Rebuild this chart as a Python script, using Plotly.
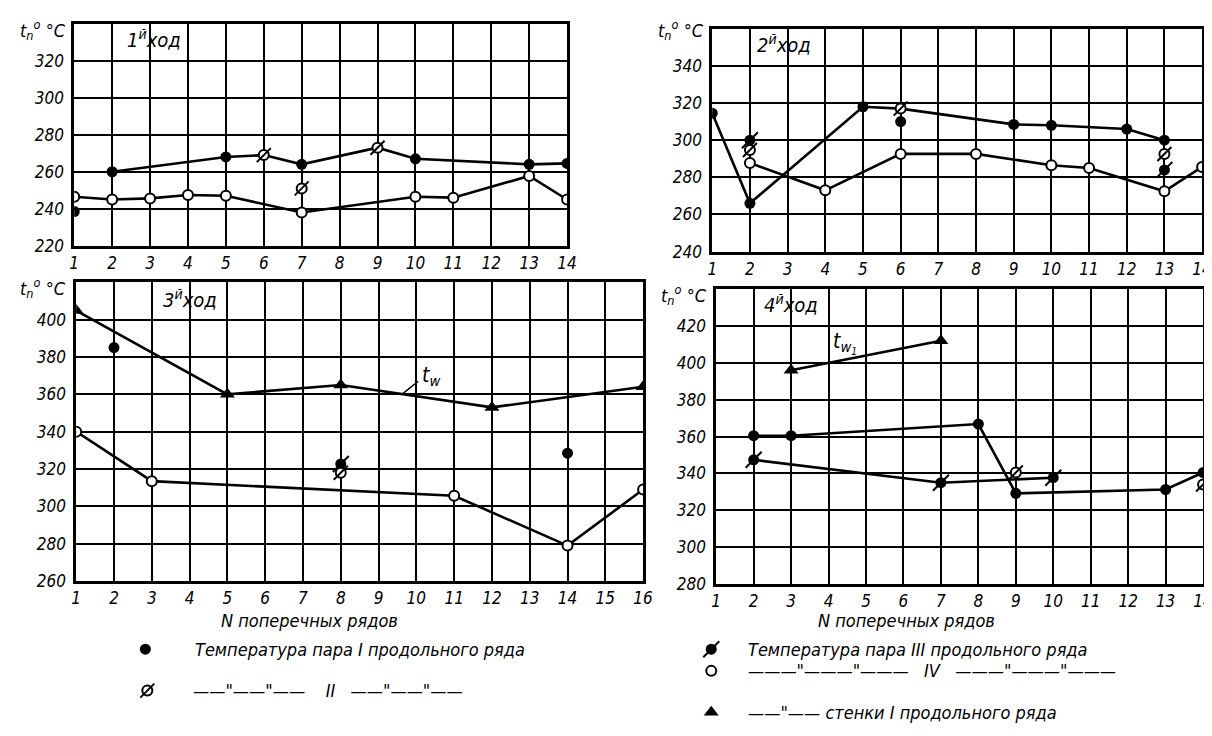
import plotly.graph_objects as go

FONT = "DejaVu Sans Condensed, DejaVu Sans, sans-serif"
W, H = 1212, 736

# ---------------- data ----------------
# Pass 1 (1-й ход)
p1_upper_x = [2, 5, 6, 7, 9, 10, 13, 14]
p1_upper_y = [260, 268, 269, 264, 273, 267, 264, 264.5]
p1_lower_x = [1, 2, 3, 4, 5, 7, 10, 11, 13, 14]
p1_lower_y = [246.5, 245, 245.6, 247.4, 247, 238, 246.5, 246, 257.7, 245]
p1_I_x = [1, 2, 5, 7, 10, 13, 14]
p1_I_y = [238.5, 260, 268, 264, 267, 264, 264.5]
p1_II_x = [6, 9, 7]
p1_II_y = [269, 273, 251]

# Pass 2 (2-й ход)
p2_upper_x = [1, 2, 5, 6, 9, 10, 12, 13]
p2_upper_y = [314.5, 266, 318, 317, 308.5, 308, 306, 300]
p2_lower_x = [2, 4, 6, 8, 10, 11, 13, 14]
p2_lower_y = [287.7, 273, 292.6, 292.6, 286.5, 285, 272.5, 285.6]
p2_I_x = [1, 2, 5, 6, 9, 10, 12, 13]
p2_I_y = [314.5, 266, 318, 310, 308.5, 308, 306, 300]
p2_II_x = [2, 6, 13]
p2_II_y = [294.7, 317, 292.6]
p2_III_x = [2, 13]
p2_III_y = [300, 284]

# Pass 3 (3-й ход)
p3_upper_x = [1, 5, 8, 12, 16]
p3_upper_y = [404.8, 360, 365, 353, 364]
p3_lower_x = [1, 3, 11, 14, 16]
p3_lower_y = [340, 313.5, 305.7, 279, 309]
p3_I_x = [2, 14]
p3_I_y = [385, 328.5]
p3_II_x = [8]
p3_II_y = [318]
p3_III_x = [8]
p3_III_y = [322.7]
p3_wall_x = [1, 5, 8, 12, 16]
p3_wall_y = [404.8, 360, 365, 353, 364]

# Pass 4 (4-й ход)
p4_wallline_x = [3, 7]
p4_wallline_y = [396, 412]
p4_upper_x = [2, 3, 8, 9, 13, 14]
p4_upper_y = [360.5, 360.5, 366.8, 329.2, 331.3, 340.5]
p4_lower_x = [2, 7, 10]
p4_lower_y = [347.4, 335, 337.7]
p4_I_x = [2, 3, 8, 9, 13, 14]
p4_I_y = [360.5, 360.5, 366.8, 329.2, 331.3, 340.5]
p4_II_x = [9, 14]
p4_II_y = [340.5, 334]
p4_III_x = [2, 7, 10]
p4_III_y = [347.4, 335, 337.7]
p4_wall_x = [3, 7]
p4_wall_y = [396, 412]

x_ticks = [list(range(1, 15)), list(range(1, 15)), list(range(1, 17)), list(range(1, 15))]
y_ranges = [[220, 340], [240, 360], [260, 420], [280, 440]]
y_ticks = [list(range(220, 321, 20)), list(range(240, 341, 20)),
           list(range(260, 401, 20)), list(range(280, 421, 20))]
pass_labels = ["1<sup>й</sup>ход", "2<sup>й</sup>ход", "3<sup>й</sup>ход", "4<sup>й</sup>ход"]
x_title = "N поперечных рядов"
legend_I = "Температура пара I продольного ряда"
legend_III = "Температура пара III продольного ряда"
legend_II = '——"——"——    II   ——"——"——'
legend_IV = '———"———"———   IV   ———"———"———'
legend_wall = '——"—— стенки I продольного ряда'

# ---------------- layout geometry (pixels) ----------------
boxes = [  # left, right, top, bottom
    (62, 561, 16, 241),
    (708, 1204, 21, 247),
    (64, 638, 278, 581),
    (712, 1205, 285, 584),
]

fig = go.Figure()
BLACK = "black"
LW = 2.6


def add_line(x, y, i):
    fig.add_trace(go.Scatter(x=x, y=y, mode="lines", line=dict(color=BLACK, width=LW),
                             xaxis=f"x{i}", yaxis=f"y{i}", showlegend=False, hoverinfo="skip"))


def add_markers(kind, x, y, i):
    if not x:
        return
    ax = dict(xaxis=f"x{i}", yaxis=f"y{i}", showlegend=False, hoverinfo="skip", mode="markers")
    if kind == "I":
        fig.add_trace(go.Scatter(x=x, y=y, marker=dict(symbol="circle", size=11, color=BLACK), **ax))
    elif kind == "IV":
        fig.add_trace(go.Scatter(x=x, y=y, marker=dict(symbol="circle", size=10, color="white",
                                                      line=dict(color=BLACK, width=2)), **ax))
    elif kind == "II":
        fig.add_trace(go.Scatter(x=x, y=y, marker=dict(symbol="circle", size=10, color="white",
                                                      line=dict(color=BLACK, width=2)), **ax))
        fig.add_trace(go.Scatter(x=x, y=y, marker=dict(symbol="line-ne", size=14,
                                                      line=dict(color=BLACK, width=2)), **ax))
    elif kind == "III":
        fig.add_trace(go.Scatter(x=x, y=y, marker=dict(symbol="circle", size=11, color=BLACK), **ax))
        fig.add_trace(go.Scatter(x=x, y=y, marker=dict(symbol="line-ne", size=16,
                                                      line=dict(color=BLACK, width=2)), **ax))
    elif kind == "W":
        fig.add_trace(go.Scatter(x=x, y=y, marker=dict(symbol="triangle-up", size=13, color=BLACK), **ax))


# pass 1
add_line(p1_upper_x, p1_upper_y, 1)
add_line(p1_lower_x, p1_lower_y, 1)
add_markers("IV", p1_lower_x, p1_lower_y, 1)
add_markers("I", p1_I_x, p1_I_y, 1)
add_markers("II", p1_II_x, p1_II_y, 1)

# pass 2
add_line(p2_upper_x, p2_upper_y, 2)
add_line(p2_lower_x, p2_lower_y, 2)
add_markers("IV", p2_lower_x, p2_lower_y, 2)
add_markers("I", p2_I_x, p2_I_y, 2)
add_markers("II", p2_II_x, p2_II_y, 2)
add_markers("III", p2_III_x, p2_III_y, 2)

# pass 3
add_line(p3_upper_x, p3_upper_y, 3)
add_line(p3_lower_x, p3_lower_y, 3)
add_markers("IV", p3_lower_x, p3_lower_y, 3)
add_markers("W", p3_wall_x, p3_wall_y, 3)
add_markers("I", p3_I_x, p3_I_y, 3)
add_markers("III", p3_III_x, p3_III_y, 3)
add_markers("II", p3_II_x, p3_II_y, 3)

# pass 4
add_line(p4_wallline_x, p4_wallline_y, 4)
add_line(p4_upper_x, p4_upper_y, 4)
add_line(p4_lower_x, p4_lower_y, 4)
add_markers("W", p4_wall_x, p4_wall_y, 4)
add_markers("I", p4_I_x, p4_I_y, 4)
add_markers("III", p4_III_x, p4_III_y, 4)
add_markers("II", p4_II_x, p4_II_y, 4)

# legend symbols on a hidden full-page pixel axis
add_markers("I", [134], [650], 5)
add_markers("II", [136], [692], 5)
add_markers("III", [707], [650], 5)
add_markers("IV", [707], [672], 5)
add_markers("W", [707], [714], 5)

tickfont = dict(family=FONT, size=17, color=BLACK, style="italic")
layout = dict(width=W, height=H, margin=dict(l=0, r=0, t=0, b=0),
              paper_bgcolor="white", plot_bgcolor="rgba(0,0,0,0)", showlegend=False)

for i, (l, r, t, b) in enumerate(boxes, start=1):
    xt = x_ticks[i - 1]
    layout[f"xaxis{i}"] = dict(domain=[l / W, r / W], range=[xt[0], xt[-1]], anchor=f"y{i}",
                               tickmode="array", tickvals=xt, ticktext=[str(v) for v in xt],
                               showgrid=True, gridcolor=BLACK, gridwidth=1.6,
                               showline=True, linecolor=BLACK, linewidth=2.6, mirror=True,
                               zeroline=False, ticks="", tickfont=tickfont, fixedrange=True)
    layout[f"yaxis{i}"] = dict(domain=[1 - b / H, 1 - t / H], range=y_ranges[i - 1], anchor=f"x{i}",
                               tickmode="array", tickvals=y_ticks[i - 1],
                               showgrid=True, gridcolor=BLACK, gridwidth=1.6,
                               showline=True, linecolor=BLACK, linewidth=2.6, mirror=True,
                               zeroline=False, ticks="", tickfont=tickfont, fixedrange=True,
                               ticklabelstandoff=4)
layout["xaxis5"] = dict(domain=[0, 1], range=[0, W], anchor="y5", visible=False, fixedrange=True)
layout["yaxis5"] = dict(domain=[0, 1], range=[H, 0], anchor="x5", visible=False, fixedrange=True)

fig.update_layout(**layout)

afont = dict(family=FONT, size=18, color=BLACK, style="italic")
ann = []
# y-axis titles
for (px, py) in [(30, 22), (676, 22), (30, 284), (679, 291)]:
    ann.append(dict(x=px, y=py, xref="x5", yref="y5", text="t<sub>n</sub><sup>o</sup> °C",
                    showarrow=False, font=afont, xanchor="center", yanchor="middle"))
# pass labels (data coords)
for i, (lx, ly) in enumerate([(3.1, 332), (2.9, 352), (4.0, 411), (3.0, 432)], start=1):
    ann.append(dict(x=lx, y=ly, xref=f"x{i}", yref=f"y{i}", text=pass_labels[i - 1],
                    showarrow=False, font=dict(family=FONT, size=20, color=BLACK, style="italic"),
                    xanchor="center", yanchor="middle"))
# t_w labels
ann.append(dict(x=10.4, y=370, xref="x3", yref="y3", text="t<sub>w</sub>", showarrow=False,
                font=dict(family=FONT, size=21, color=BLACK, style="italic")))
ann.append(dict(x=4.45, y=411, xref="x4", yref="y4", text="t<sub>w<sub>1</sub></sub>", showarrow=False,
                font=dict(family=FONT, size=21, color=BLACK, style="italic")))
# x titles
for px in [300, 905]:
    ann.append(dict(x=px, y=621, xref="x5", yref="y5", text=x_title, showarrow=False,
                    font=afont, xanchor="center", yanchor="middle"))
# legend texts
for (px, py, txt) in [(182, 650, legend_I), (180, 692, legend_II), (742, 650, legend_III),
                      (742, 672, legend_IV), (742, 714, legend_wall)]:
    ann.append(dict(x=px, y=py, xref="x5", yref="y5", text=txt, showarrow=False,
                    font=afont, xanchor="left", yanchor="middle"))
fig.update_layout(annotations=ann)

fig.add_shape(type="line", xref="x3", yref="y3", x0=9.65, y0=360.5, x1=10.05, y1=367,
              line=dict(color=BLACK, width=1.5))

fig.write_html("out.html")
